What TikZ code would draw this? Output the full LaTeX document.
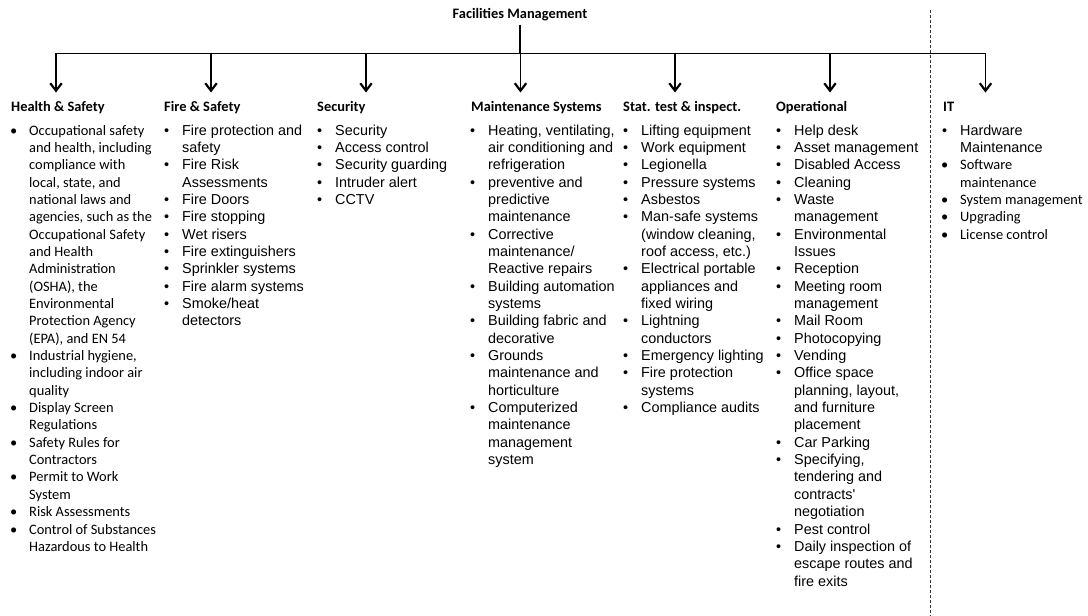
\documentclass[tikz,border=0pt]{standalone}
\usepackage{fontspec}
\setmainfont{Liberation Sans}
\newfontfamily\calfont{Carlito}
\usetikzlibrary{arrows.meta}
\newcommand\bu{\llap{\makebox[31pt]{\textbullet}}}
\newcommand\ar{\fontspec{Liberation Sans}}
\begin{document}
\begin{tikzpicture}[x=1pt,y=-1pt,
  hdr/.style={font=\calfont\bfseries\fontsize{14.4}{17.35}\selectfont, anchor=base west, inner sep=0pt},
  alist/.style={anchor=base west, inner sep=0pt, font=\fontsize{14.4}{17.35}\selectfont},
  clist/.style={anchor=base west, inner sep=0pt, font=\calfont\fontsize{14.4}{17.35}\selectfont},
  link/.style={line width=1.2pt, draw=black},
  arr/.style={link, -{Straight Barb[length=7.5pt,width=11.5pt,line width=2.2pt]}},
  sep/.style={line width=0.9pt, draw=black!80, dash pattern=on 3pt off 2pt}]
\useasboundingbox (0,0) rectangle (1088,616);

% title
\node[hdr, anchor=base] (fm) at (520,18) {Facilities Management};

% coordinates
\coordinate (bus) at (520.5,53.5);
\coordinate (t1) at (56,92.5);
\coordinate (t2) at (211,92.5);
\coordinate (t3) at (366,92.5);
\coordinate (t4) at (520.5,92.5);
\coordinate (t5) at (675,92.5);
\coordinate (t6) at (830,92.5);
\coordinate (t7) at (985.5,92.5);
\coordinate (dtop) at (930.5,10);
\coordinate (dbot) at (930.5,616);

% connectors
\draw[link] ([yshift=-4pt]fm.south) -- (fm.south |- bus);
\draw[link, line cap=rect] (t1 |- bus) -- (t7 |- bus);
\foreach \i in {1,...,7} \draw[arr] (t\i |- bus) -- (t\i);

% separator
\draw[sep] (dtop) -- (dbot);

% headers
\node[hdr] (h1) at (11,111) {Health \& Safety};
\node[hdr] (h2) at (164,111) {Fire \& Safety};
\node[hdr] (h3) at (317,111) {Security};
\node[hdr] (h4) at (471,111) {Maintenance Systems};
\node[hdr] (h5) at (623,111) {Stat. test \& inspect.};
\node[hdr] (h6) at (776,111) {Operational};
\node[hdr] (h7) at (943,111) {IT};

% lists
\node[clist] (l1) at (29,135) {\begin{tabular}[t]{@{}l@{}}
\bu Occupational safety\\
and health, including\\
compliance with\\
local, state, and\\
national laws and\\
agencies, such as the\\
Occupational Safety\\
and Health\\
Administration\\
(OSHA), the\\
Environmental\\
Protection Agency\\
(EPA), and EN 54\\
\bu Industrial hygiene,\\
including indoor air\\
quality\\
\bu Display Screen\\
Regulations\\
\bu Safety Rules for\\
Contractors\\
\bu Permit to Work\\
System\\
\bu Risk Assessments\\
\bu Control of Substances\\
Hazardous to Health
\end{tabular}};

\node[alist] (l2) at (182,135) {\begin{tabular}[t]{@{}l@{}}
\bu Fire protection and\\
safety\\
\bu Fire Risk\\
Assessments\\
\bu Fire Doors\\
\bu Fire stopping\\
\bu Wet risers\\
\bu Fire extinguishers\\
\bu Sprinkler systems\\
\bu Fire alarm systems\\
\bu Smoke/heat\\
detectors
\end{tabular}};

\node[alist] (l3) at (335,135) {\begin{tabular}[t]{@{}l@{}}
\bu Security\\
\bu Access control\\
\bu Security guarding\\
\bu Intruder alert\\
\bu CCTV
\end{tabular}};

\node[alist] (l4) at (488,135) {\begin{tabular}[t]{@{}l@{}}
\bu Heating, ventilating,\\
air conditioning and\\
refrigeration\\
\bu preventive and\\
predictive\\
maintenance\\
\bu Corrective\\
maintenance/\\
Reactive repairs\\
\bu Building automation\\
systems\\
\bu Building fabric and\\
decorative\\
\bu Grounds\\
maintenance and\\
horticulture\\
\bu Computerized\\
maintenance\\
management\\
system
\end{tabular}};

\node[alist] (l5) at (641,135) {\begin{tabular}[t]{@{}l@{}}
\bu Lifting equipment\\
\bu Work equipment\\
\bu Legionella\\
\bu Pressure systems\\
\bu Asbestos\\
\bu Man-safe systems\\
(window cleaning,\\
roof access, etc.)\\
\bu Electrical portable\\
appliances and\\
fixed wiring\\
\bu Lightning\\
conductors\\
\bu Emergency lighting\\
\bu Fire protection\\
systems\\
\bu Compliance audits
\end{tabular}};

\node[alist] (l6) at (794,135) {\begin{tabular}[t]{@{}l@{}}
\bu Help desk\\
\bu Asset management\\
\bu Disabled Access\\
\bu Cleaning\\
\bu Waste\\
management\\
\bu Environmental\\
Issues\\
\bu Reception\\
\bu Meeting room\\
management\\
\bu Mail Room\\
\bu Photocopying\\
\bu Vending\\
\bu Office space\\
planning, layout,\\
and furniture\\
placement\\
\bu Car Parking\\
\bu Specifying,\\
tendering and\\
contracts\textquotesingle\\
negotiation\\
\bu Pest control\\
\bu Daily inspection of\\
escape routes and\\
fire exits
\end{tabular}};

\node[clist] (l7) at (960,135) {\begin{tabular}[t]{@{}l@{}}
{\ar\bu Hardware}\\
{\ar Maintenance}\\
\bu Software\\
maintenance\\
\bu System management\\
\bu Upgrading\\
\bu License control
\end{tabular}};
\end{tikzpicture}
\end{document}
